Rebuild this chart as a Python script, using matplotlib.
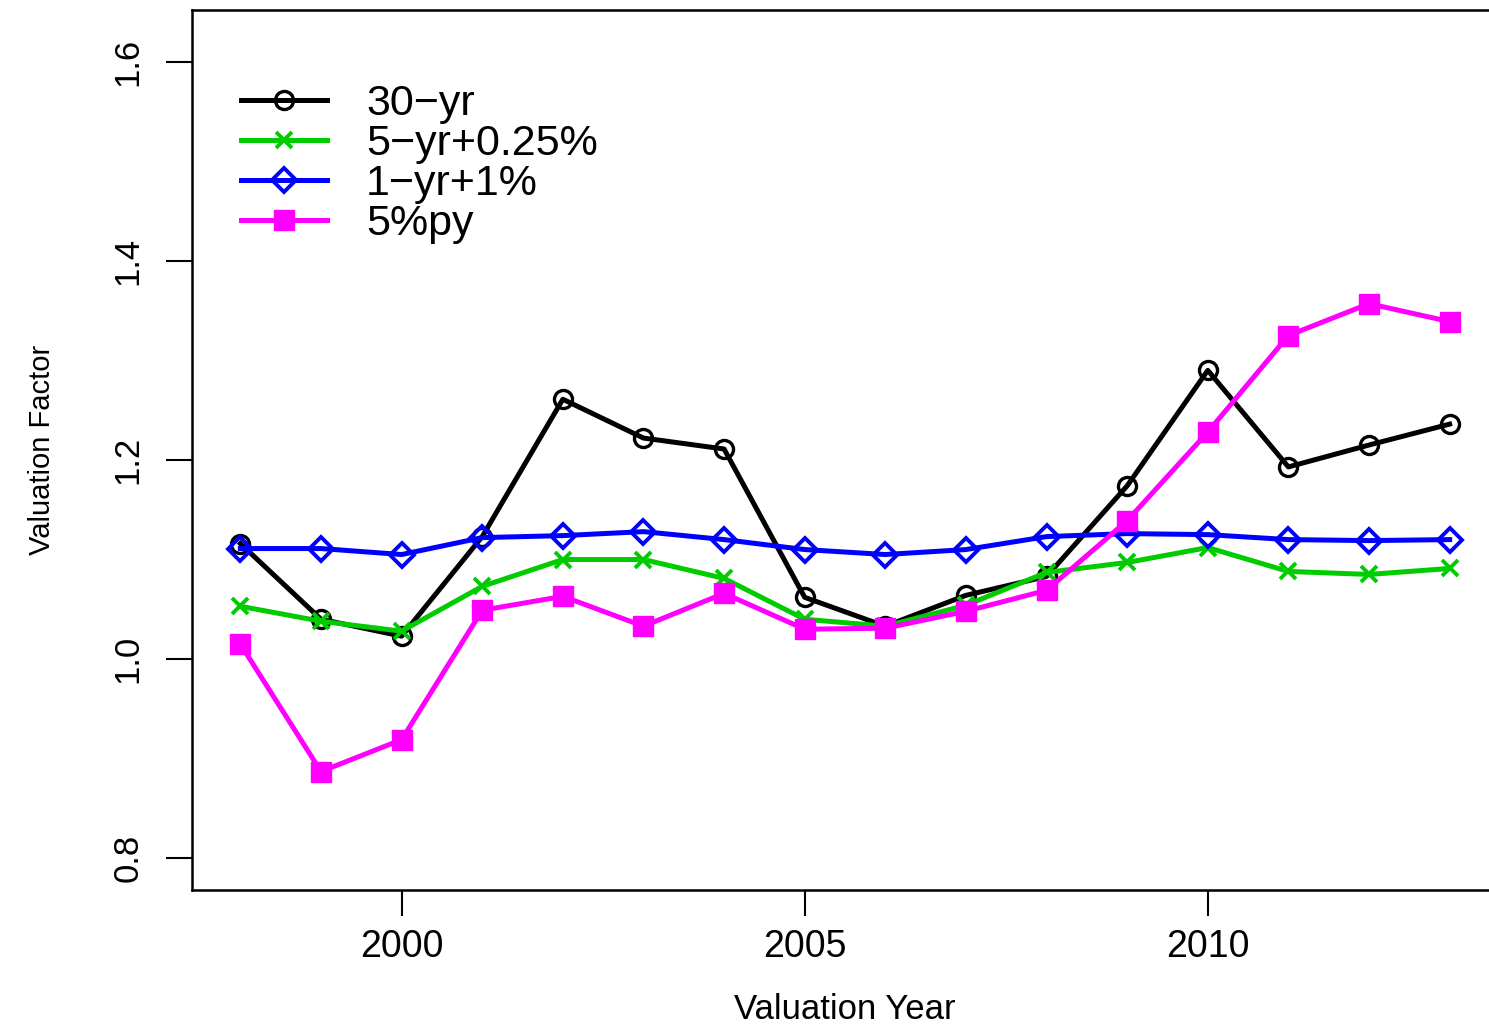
import matplotlib
matplotlib.use("Agg")
import matplotlib.pyplot as plt

plt.rcParams["font.family"] = ["Liberation Sans", "DejaVu Sans"]

# Valuation factors by year
years = list(range(1998, 2014))
yr30 = [1.116, 1.040, 1.023, 1.123, 1.261, 1.222, 1.211, 1.062,
        1.033, 1.064, 1.083, 1.174, 1.290, 1.193, 1.215, 1.236]
yr5_025 = [1.053, 1.038, 1.028, 1.073, 1.100, 1.100, 1.081, 1.040,
           1.033, 1.054, 1.087, 1.097, 1.112, 1.088, 1.085, 1.091]
yr1_1 = [1.111, 1.111, 1.105, 1.122, 1.124, 1.128, 1.120, 1.110,
         1.105, 1.110, 1.123, 1.126, 1.125, 1.120, 1.119, 1.120]
pct5 = [1.015, 0.887, 0.919, 1.049, 1.063, 1.033, 1.066, 1.030,
        1.031, 1.048, 1.069, 1.139, 1.228, 1.325, 1.357, 1.339]

labels = ["30\u2212yr", "5\u2212yr+0.25%", "1\u2212yr+1%", "5%py"]
yticks = [0.8, 1.0, 1.2, 1.4, 1.6]
xticks = [2000, 2005, 2010]

W, H = 1489, 1025
fig = plt.figure(figsize=(W / 100, H / 100), dpi=100)
ax = fig.add_axes([192 / W, (H - 890) / H, (1498 - 192) / W, (890 - 10) / H])

lw = 3.6
ax.plot(years, yr30, color="black", lw=lw, marker="o", ms=13,
        mfc="none", mec="black", mew=2.4, label=labels[0])
ax.plot(years, yr5_025, color="#00cc00", lw=lw, marker="x", ms=12,
        mew=2.8, label=labels[1])
ax.plot(years, yr1_1, color="#0000ff", lw=lw, marker="D", ms=12,
        mfc="none", mec="#0000ff", mew=2.8, label=labels[2])
ax.plot(years, pct5, color="#ff00ff", lw=lw, marker="s", ms=15,
        label=labels[3])

ax.set_xlim(1997.4, 2013.6)
ax.set_ylim(0.768, 1.652)
ax.set_xticks(xticks)
ax.set_yticks(yticks)
ax.set_yticklabels([f"{v:.1f}" for v in yticks], rotation=90, va="center")
ax.tick_params(axis="x", length=19, width=1.5, pad=9, labelsize=27)
ax.tick_params(axis="y", length=19, width=1.5, pad=15, labelsize=25)
for s in ax.spines.values():
    s.set_linewidth(1.8)

ax.set_xlabel("Valuation Year", fontsize=25, labelpad=20)
ax.set_ylabel("Valuation Factor", fontsize=21, labelpad=40)

ax.legend(loc="upper left", bbox_to_anchor=(0.018, 0.945), frameon=False,
          fontsize=31, handlelength=2.0, handletextpad=0.9,
          labelspacing=0.0, borderaxespad=0.2)

fig.savefig("out.png", dpi=100)
plt.close(fig)
